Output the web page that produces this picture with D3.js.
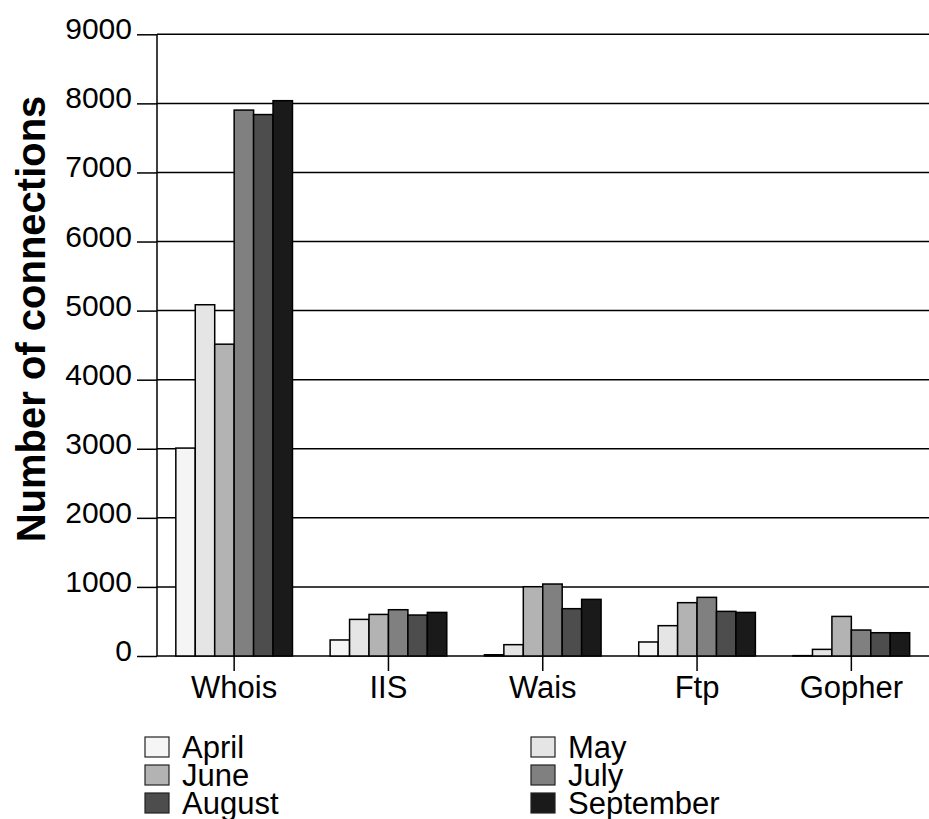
<!DOCTYPE html>
<html>
<head>
<meta charset="utf-8">
<script src="https://cdn.jsdelivr.net/npm/d3@7"></script>
<style>
  html, body { margin: 0; padding: 0; background: #fff; }
  svg { display: block; }
  text { font-family: "Liberation Sans", Arial, sans-serif; fill: #000; }
</style>
</head>
<body>
<svg id="chart" width="929" height="819"></svg>
<script>
const categories = ["Whois", "IIS", "Wais", "Ftp", "Gopher"];
const months = ["April", "May", "June", "July", "August", "September"];
const april = [3010, 232, 18, 203, 5];
const may = [5085, 530, 164, 439, 96];
const june = [4514, 602, 1003, 772, 573];
const july = [7903, 670, 1042, 849, 376];
const august = [7838, 593, 685, 646, 337];
const september = [8039, 631, 820, 631, 337];
const yTicks = [0, 1000, 2000, 3000, 4000, 5000, 6000, 7000, 8000, 9000];
const colors = ["#f5f5f5", "#e5e5e5", "#b3b3b3", "#808080", "#4d4d4d", "#1a1a1a"];

const seriesValues = [april, may, june, july, august, september];
const data = categories.map((c, i) => ({
  category: c,
  values: months.map((m, j) => ({ month: m, value: seriesValues[j][i] }))
}));

const svg = d3.select("#chart");
const mLeft = 157, mRight = 928.5, mTop = 34.3, mBottom = 656;

const x0 = d3.scaleBand().domain(categories).range([mLeft, mRight])
  .paddingInner(0.244).paddingOuter(0.122);
const x1 = d3.scaleBand().domain(months).range([0, x0.bandwidth()]);
const y = d3.scaleLinear().domain([0, 9000]).range([mBottom, mTop]);
const color = d3.scaleOrdinal().domain(months).range(colors);

// gridlines
svg.append("g").selectAll("line").data(yTicks).join("line")
  .attr("x1", mLeft).attr("x2", 929)
  .attr("y1", d => y(d)).attr("y2", d => y(d))
  .attr("stroke", "#000").attr("stroke-width", 1.5);

// bars
svg.append("g").selectAll("g").data(data).join("g")
  .attr("transform", d => `translate(${x0(d.category)},0)`)
  .selectAll("rect").data(d => d.values).join("rect")
  .attr("x", d => x1(d.month))
  .attr("y", d => y(d.value))
  .attr("width", x1.bandwidth())
  .attr("height", d => y(0) - y(d.value))
  .attr("fill", d => color(d.month))
  .attr("stroke", "#000").attr("stroke-width", 1.5);

// y axis
const yAxis = svg.append("g").attr("transform", `translate(${mLeft},0)`)
  .call(d3.axisLeft(y).tickValues(yTicks).tickSize(20).tickPadding(5).tickFormat(d3.format("d")));
yAxis.select(".domain").attr("d", `M0,${mTop}V${mBottom}`).attr("stroke", "#000").attr("stroke-width", 1.5);
yAxis.selectAll(".tick line").attr("stroke", "#000").attr("stroke-width", 1.5);
yAxis.selectAll(".tick text").attr("font-size", 30).attr("dy", "0.15em")
  .style("font-family", '"Liberation Sans", Arial, sans-serif').attr("fill", "#000");

// x axis
const xAxis = svg.append("g").attr("transform", `translate(0,${mBottom})`)
  .call(d3.axisBottom(x0).tickSize(15).tickPadding(5));
xAxis.select(".domain").remove();
xAxis.selectAll(".tick line").attr("stroke", "#000").attr("stroke-width", 1.5);
xAxis.selectAll(".tick text").attr("font-size", 31)
  .style("font-family", '"Liberation Sans", Arial, sans-serif').attr("fill", "#000");

// y title
svg.append("text")
  .attr("transform", `translate(45,319) rotate(-90)`)
  .attr("text-anchor", "middle")
  .attr("font-size", 40).attr("font-weight", "bold")
  .text("Number of connections");

// legend
const legend = svg.append("g").selectAll("g").data(months).join("g")
  .attr("transform", (d, i) => `translate(${i % 2 === 0 ? 145 : 531},${737 + Math.floor(i / 2) * 28})`);
legend.append("rect").attr("width", 24).attr("height", 20)
  .attr("fill", d => color(d)).attr("stroke", "#222").attr("stroke-width", 1.2);
legend.append("text").attr("x", 37).attr("y", 21).attr("font-size", 31).text(d => d);
</script>
</body>
</html>
